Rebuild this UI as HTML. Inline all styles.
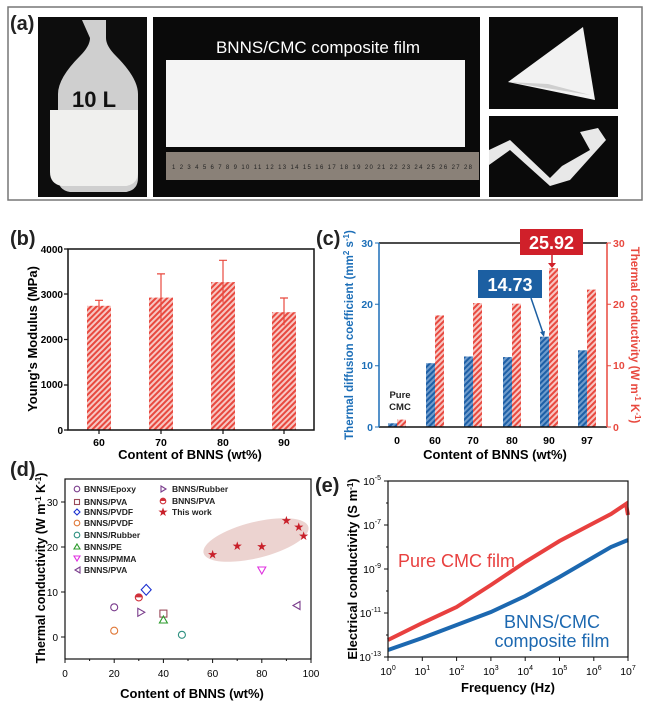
<!DOCTYPE html>
<html><head><meta charset="utf-8"><style>
html,body{margin:0;padding:0;background:#fff}
svg{display:block;font-family:"Liberation Sans",Arial,sans-serif}
</style></head><body>
<svg width="650" height="705" viewBox="0 0 650 705" xmlns="http://www.w3.org/2000/svg">
<defs>
<pattern id="hr" width="4" height="4" patternUnits="userSpaceOnUse" patternTransform="rotate(45)">
<rect width="4" height="4" fill="#f7c7c3"/><rect width="2" height="4" fill="#e8493f"/></pattern>
<pattern id="hb" width="4" height="4" patternUnits="userSpaceOnUse" patternTransform="rotate(45)">
<rect width="4" height="4" fill="#6f9ccc"/><rect width="2" height="4" fill="#1d5fa6"/></pattern>
</defs>
<!-- panel a -->
<rect x="8" y="7" width="634" height="193" fill="#fff" stroke="#777" stroke-width="1.5"/>
<text x="10" y="30" font-size="20" font-weight="bold" fill="#222">(a)</text>
<rect x="38" y="17" width="109" height="180" fill="#0d0d0d"/>
<path d="M82 20 h24 v18 q0 8 10 18 q22 22 22 38 v84 q0 12 -12 14 h-56 q-12 -2 -12 -14 v-84 q0 -16 22 -38 q10 -10 10 -18z" fill="#cfcfcf"/>
<path d="M50 110 h88 v62 q0 12 -12 14 h-64 q-12 -2 -12 -14z" fill="#f0f0ee"/>
<text x="72" y="107" font-size="22" font-weight="bold" fill="#111">10 L</text>
<rect x="153" y="17" width="327" height="180" fill="#0a0a0a"/>
<text x="318" y="53" font-size="17" fill="#fff" text-anchor="middle">BNNS/CMC composite film</text>
<rect x="166" y="60" width="299" height="87" fill="#f4f4f4"/>
<rect x="166" y="152" width="313" height="28" fill="#8a8178"/>
<text x="172" y="169" font-size="6" fill="#222" textLength="300">1 2 3 4 5 6 7 8 9 10 11 12 13 14 15 16 17 18 19 20 21 22 23 24 25 26 27 28</text>
<rect x="489" y="17" width="129" height="92" fill="#0a0a0a"/>
<path d="M508 82 L583 27 L595 100 Z" fill="#f2f2f2"/><path d="M508 82 L548 84 L590 95 Z" fill="#cfcfcf"/>
<rect x="489" y="116" width="129" height="81" fill="#0a0a0a"/>
<path d="M489 150 L510 140 L550 178 L562 166 L590 150 L580 132 L598 128 L606 140 L570 180 L550 186 L510 150 L489 165Z" fill="#e8e8e8"/>
<!-- panel b -->
<text x="10" y="245" font-size="20" font-weight="bold" fill="#222">(b)</text>
<g font-size="10" font-weight="bold" text-anchor="end">
<text x="63" y="253">4000</text><text x="63" y="298">3000</text><text x="63" y="343">2000</text><text x="63" y="388">1000</text><text x="63" y="434">0</text></g>
<rect x="87" y="305.8" width="24" height="124.2" fill="url(#hr)"/>
<rect x="149" y="297.6" width="24" height="132.4" fill="url(#hr)"/>
<rect x="211" y="282.1" width="24" height="147.9" fill="url(#hr)"/>
<rect x="272" y="312.2" width="24" height="117.8" fill="url(#hr)"/>
<g stroke="#e8493f" stroke-width="1.2">
<path d="M99 309V300.3M95 300.3h8M161 320.8V273.9M157 273.9h8M223 302.6V260.3M219 260.3h8M284 325.3V298M280 298h8"/></g>
<rect x="68" y="249" width="246" height="181" fill="none" stroke="#111" stroke-width="1.5"/>
<g stroke="#111" stroke-width="1.2"><path d="M68 249h-4M68 294h-4M68 339.5h-4M68 385h-4M68 430h-4M99 430v4M161 430v4M223 430v4M284 430v4"/></g>
<g font-size="10.5" font-weight="bold" text-anchor="middle"><text x="99" y="446">60</text><text x="161" y="446">70</text><text x="223" y="446">80</text><text x="284" y="446">90</text></g>
<text x="190" y="459" font-size="13" font-weight="bold" text-anchor="middle">Content of BNNS (wt%)</text>
<text transform="translate(37 339) rotate(-90)" font-size="13" font-weight="bold" text-anchor="middle">Young's Modulus (MPa)</text>
<!-- panel c -->
<text x="316" y="245" font-size="20" font-weight="bold" fill="#222">(c)</text>
<rect x="388" y="423.3" width="9" height="3.7" fill="url(#hb)"/><rect x="397" y="419.6" width="9" height="7.4" fill="url(#hr)"/>
<rect x="426" y="363.2" width="9" height="63.8" fill="url(#hb)"/><rect x="435" y="315.4" width="9" height="111.6" fill="url(#hr)"/>
<rect x="464" y="356.5" width="9" height="70.5" fill="url(#hb)"/><rect x="473" y="303.1" width="9" height="123.9" fill="url(#hr)"/>
<rect x="503" y="357.1" width="9" height="69.9" fill="url(#hb)"/><rect x="512" y="303.7" width="9" height="123.3" fill="url(#hr)"/>
<rect x="540" y="336.7" width="9" height="90.3" fill="url(#hb)"/><rect x="549" y="268" width="9" height="159" fill="url(#hr)"/>
<rect x="578" y="350.3" width="9" height="76.7" fill="url(#hb)"/><rect x="587" y="289.6" width="9" height="137.4" fill="url(#hr)"/>
<line x1="379" y1="243" x2="607" y2="243" stroke="#111" stroke-width="1.5"/>
<line x1="379" y1="427" x2="607" y2="427" stroke="#111" stroke-width="1.5"/>
<line x1="379" y1="243" x2="379" y2="427" stroke="#1d6fb8" stroke-width="1.5"/>
<line x1="607" y1="243" x2="607" y2="427" stroke="#e8493f" stroke-width="1.5"/>
<g stroke="#1d6fb8"><path d="M379 243h-4M379 304.3h-4M379 365.7h-4M379 427h-4"/></g>
<g stroke="#e8493f"><path d="M607 243h4M607 304.3h4M607 365.7h4M607 427h4"/></g>
<g font-size="10.5" font-weight="bold" fill="#1d6fb8" text-anchor="end"><text x="373" y="247">30</text><text x="373" y="308">20</text><text x="373" y="369">10</text><text x="373" y="431">0</text></g>
<g font-size="10.5" font-weight="bold" fill="#e8493f"><text x="613" y="247">30</text><text x="613" y="308">20</text><text x="613" y="369">10</text><text x="613" y="431">0</text></g>
<g font-size="10.5" font-weight="bold" text-anchor="middle"><text x="397" y="444">0</text><text x="435" y="444">60</text><text x="473" y="444">70</text><text x="512" y="444">80</text><text x="549" y="444">90</text><text x="587" y="444">97</text></g>
<text x="400" y="398" font-size="9.5" font-weight="bold" fill="#222" text-anchor="middle">Pure</text><text x="400" y="410" font-size="9.5" font-weight="bold" fill="#222" text-anchor="middle">CMC</text>
<text x="495" y="459" font-size="13" font-weight="bold" text-anchor="middle">Content of BNNS (wt%)</text>
<text transform="translate(353 335) rotate(-90)" font-size="11.5" font-weight="bold" fill="#1d6fb8" text-anchor="middle">Thermal diffusion coefficient (mm<tspan font-size="8" dy="-4">2</tspan><tspan dy="4"> s</tspan><tspan font-size="8" dy="-4">-1</tspan><tspan dy="4">)</tspan></text>
<text transform="translate(631 335) rotate(90)" font-size="11.5" font-weight="bold" fill="#e8493f" text-anchor="middle">Thermal conductivity (W m<tspan font-size="8" dy="-4">-1</tspan><tspan dy="4"> K</tspan><tspan font-size="8" dy="-4">-1</tspan><tspan dy="4">)</tspan></text>
<rect x="520" y="229" width="63" height="26" fill="#d0202a"/>
<text x="551.5" y="249" font-size="18" font-weight="bold" fill="#fff" text-anchor="middle">25.92</text>
<path d="M552 255V266" stroke="#d0202a" stroke-width="1.5"/><path d="M548 263l4 5 4-5z" fill="#d0202a"/>
<rect x="478" y="270" width="64" height="28" fill="#1c5fa2"/>
<text x="510" y="291" font-size="18" font-weight="bold" fill="#fff" text-anchor="middle">14.73</text>
<path d="M531 298L543 333" stroke="#1c5fa2" stroke-width="1.5"/><path d="M540 332l4 5 1-6z" fill="#1c5fa2"/>
<!-- panel d -->
<text x="10" y="476" font-size="20" font-weight="bold" fill="#222">(d)</text>
<ellipse cx="256" cy="540" rx="54" ry="18" transform="rotate(-14 256 540)" fill="#ecd3d0"/>
<rect x="65" y="479" width="246" height="180" fill="none" stroke="#111" stroke-width="1.2"/>
<g stroke="#111"><path d="M65 637h-4M65 592h-4M65 547h-4M65 502h-4M65 659v4M114.2 659v4M163.4 659v4M212.6 659v4M261.8 659v4M311 659v4M89.6 659v2M138.8 659v2M188 659v2M237.2 659v2M286.4 659v2"/></g>
<g font-size="10" text-anchor="end"><text x="58" y="641">0</text><text x="58" y="596">10</text><text x="58" y="551">20</text><text x="58" y="506">30</text></g>
<g font-size="10" text-anchor="middle"><text x="65" y="677">0</text><text x="114.2" y="677">20</text><text x="163.4" y="677">40</text><text x="212.6" y="677">60</text><text x="261.8" y="677">80</text><text x="311" y="677">100</text></g>
<text x="192" y="698" font-size="13" font-weight="bold" text-anchor="middle">Content of BNNS (wt%)</text>
<text transform="translate(45 568) rotate(-90)" font-size="12.5" font-weight="bold" text-anchor="middle">Thermal conductivity (W m<tspan font-size="8" dy="-4">-1</tspan><tspan dy="4"> K</tspan><tspan font-size="8" dy="-4">-1</tspan><tspan dy="4">)</tspan></text>
<g font-size="8.5" font-weight="bold" fill="#222">
<text x="84" y="492">BNNS/Epoxy</text><text x="84" y="505">BNNS/PVA</text><text x="84" y="515">BNNS/PVDF</text><text x="84" y="526">BNNS/PVDF</text><text x="84" y="538">BNNS/Rubber</text><text x="84" y="550">BNNS/PE</text><text x="84" y="562">BNNS/PMMA</text><text x="84" y="573">BNNS/PVA</text>
<text x="172" y="492">BNNS/Rubber</text><text x="172" y="504">BNNS/PVA</text><text x="172" y="515">This work</text></g>
<g fill="none" stroke-width="1.1">
<circle cx="77" cy="489" r="2.8" stroke="#7a3d8c"/><circle cx="114.2" cy="607.3" r="3.5" stroke="#7a3d8c"/>
<rect x="74.5" y="499.5" width="5" height="5" stroke="#9a4a5a"/><rect x="159.9" y="610.1" width="7" height="7" stroke="#9a4a5a"/>
<path d="M77 509l3 3-3 3-3-3z" stroke="#1a2fd0"/><path d="M146.2 584.4l5 5.4-5 5.4-5-5.4z" stroke="#1a2fd0"/>
<circle cx="77" cy="523" r="2.8" stroke="#e07838"/><circle cx="114.2" cy="630.7" r="3.5" stroke="#e07838"/>
<circle cx="77" cy="535" r="2.8" stroke="#2e9080"/><circle cx="181.9" cy="634.8" r="3.5" stroke="#2e9080"/>
<path d="M77 544l3 5h-6z" stroke="#2a9a2a"/><path d="M163.4 616l4 7h-8z" stroke="#2a9a2a"/>
<path d="M74 556h6l-3 5z" stroke="#e030e0"/><path d="M257.8 567h8l-4 7z" stroke="#e030e0"/>
<path d="M80 567v6l-5-3z" stroke="#7a3d8c"/><path d="M300 601.5v8l-7-4z" stroke="#7a3d8c"/>
<path d="M161 486v6l5-3z" stroke="#7a3d8c"/><path d="M137.8 608.3v8l7-4z" stroke="#7a3d8c"/>
<circle cx="163" cy="501" r="2.8" stroke="#d0303a"/><circle cx="138.8" cy="597.4" r="3.5" stroke="#d0303a"/>
</g>
<path d="M160.2 501a2.8 2.8 0 0 1 5.6 0z" fill="#d0303a"/><path d="M135.3 597.4a3.5 3.5 0 0 1 7 0z" fill="#d0303a"/>
<g fill="#c8202a" font-size="12" text-anchor="middle">
<text x="163" y="516">★</text>
<text x="212.6" y="558.7">★</text><text x="237.2" y="550.1">★</text><text x="261.8" y="550.6">★</text><text x="286.4" y="524.5">★</text><text x="298.7" y="531.2">★</text><text x="303.6" y="540.2">★</text></g>
<!-- panel e -->
<text x="315" y="492" font-size="20" font-weight="bold" fill="#222">(e)</text>
<polyline points="388,640 422.3,623 456.6,607 490.9,585 525.2,562 559.5,541 593.8,523 611,514 626,504 628,515" fill="none" stroke="#e8403f" stroke-width="4"/>
<polyline points="388,650 422.3,638 456.6,625 490.9,612 525.2,596 559.5,577 593.8,557 611,547 628,540" fill="none" stroke="#1c68b0" stroke-width="4"/>
<rect x="388" y="481" width="240" height="176" fill="none" stroke="#111" stroke-width="1.2"/>
<g stroke="#111"><path d="M388 657v4M422.3 657v4M456.6 657v4M490.9 657v4M525.2 657v4M559.5 657v4M593.8 657v4M628 657v4M388 657h-4M388 635h-2M388 613h-4M388 591h-2M388 569h-4M388 547h-2M388 525h-4M388 503h-2M388 481h-4"/></g>
<g font-size="10.5" text-anchor="middle"><text x="388" y="675">10<tspan font-size="7" dy="-5">0</tspan></text><text x="422.3" y="675">10<tspan font-size="7" dy="-5">1</tspan></text><text x="456.6" y="675">10<tspan font-size="7" dy="-5">2</tspan></text><text x="490.9" y="675">10<tspan font-size="7" dy="-5">3</tspan></text><text x="525.2" y="675">10<tspan font-size="7" dy="-5">4</tspan></text><text x="559.5" y="675">10<tspan font-size="7" dy="-5">5</tspan></text><text x="593.8" y="675">10<tspan font-size="7" dy="-5">6</tspan></text><text x="628" y="675">10<tspan font-size="7" dy="-5">7</tspan></text></g>
<g font-size="10.5" text-anchor="end"><text x="381" y="661">10<tspan font-size="7" dy="-5">-13</tspan></text><text x="381" y="617">10<tspan font-size="7" dy="-5">-11</tspan></text><text x="381" y="573">10<tspan font-size="7" dy="-5">-9</tspan></text><text x="381" y="529">10<tspan font-size="7" dy="-5">-7</tspan></text><text x="381" y="485">10<tspan font-size="7" dy="-5">-5</tspan></text></g>
<text x="508" y="692" font-size="13" font-weight="bold" text-anchor="middle">Frequency (Hz)</text>
<text transform="translate(357 569) rotate(-90)" font-size="13" font-weight="bold" text-anchor="middle">Electrical conductivity (S m<tspan font-size="8" dy="-4">-1</tspan><tspan dy="4">)</tspan></text>
<text x="398" y="567" font-size="18" fill="#e8403f">Pure CMC film</text>
<text x="552" y="628" font-size="18" fill="#1c68b0" text-anchor="middle">BNNS/CMC</text>
<text x="552" y="647" font-size="18" fill="#1c68b0" text-anchor="middle">composite film</text>
</svg>
</body></html>
